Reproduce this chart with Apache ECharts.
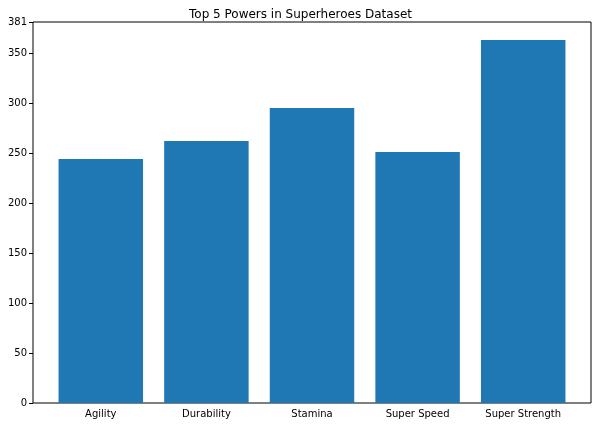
<!DOCTYPE html>
<html><head><meta charset="utf-8">
<script src="https://cdn.jsdelivr.net/npm/echarts@6/dist/echarts.min.js"></script>
<style>html,body{margin:0;background:#fff}#c{width:601px;height:427px}</style>
</head><body><div id="c"></div>
<script>
const categories = ['Agility', 'Durability', 'Stamina', 'Super Speed', 'Super Strength'];
const counts = [244, 262, 295, 251, 363];
const yMax = 381;

const chart = echarts.init(document.getElementById('c'));
const font = { fontFamily: 'DejaVu Sans', fontSize: 10, color: '#000' };
chart.setOption({
    animation: false,
    title: { text: 'Top 5 Powers in Superheroes Dataset', left: 'center', top: 4,
        textStyle: { fontFamily: 'DejaVu Sans', fontSize: 12, fontWeight: 'normal', color: '#000' } },
    grid: [
        { left: 33, right: 10, top: 22, bottom: 24, show: true, borderColor: '#000', borderWidth: 1 },
        { left: 48, right: 25, top: 22, bottom: 24 }
    ],
    xAxis: [
        { gridIndex: 0, type: 'value', show: false, min: 0, max: 1 },
        { gridIndex: 1, type: 'category', data: categories,
            axisLine: { show: false },
            axisTick: { alignWithLabel: true, inside: false, length: 4, lineStyle: { color: '#000' } },
            axisLabel: { ...font, margin: 6 } }
    ],
    yAxis: [
        { gridIndex: 0, type: 'value', min: 0, max: yMax, interval: 50,
            splitLine: { show: false }, axisLine: { show: false },
            axisTick: { show: true, length: 4, lineStyle: { color: '#000' } },
            axisLabel: { ...font, margin: 6 } },
        { gridIndex: 1, type: 'value', min: 0, max: yMax, show: false }
    ],
    series: [{
        type: 'bar', xAxisIndex: 1, yAxisIndex: 1, data: counts,
        barWidth: '80%', itemStyle: { color: '#1f77b4' }
    }]
});
</script></body></html>
